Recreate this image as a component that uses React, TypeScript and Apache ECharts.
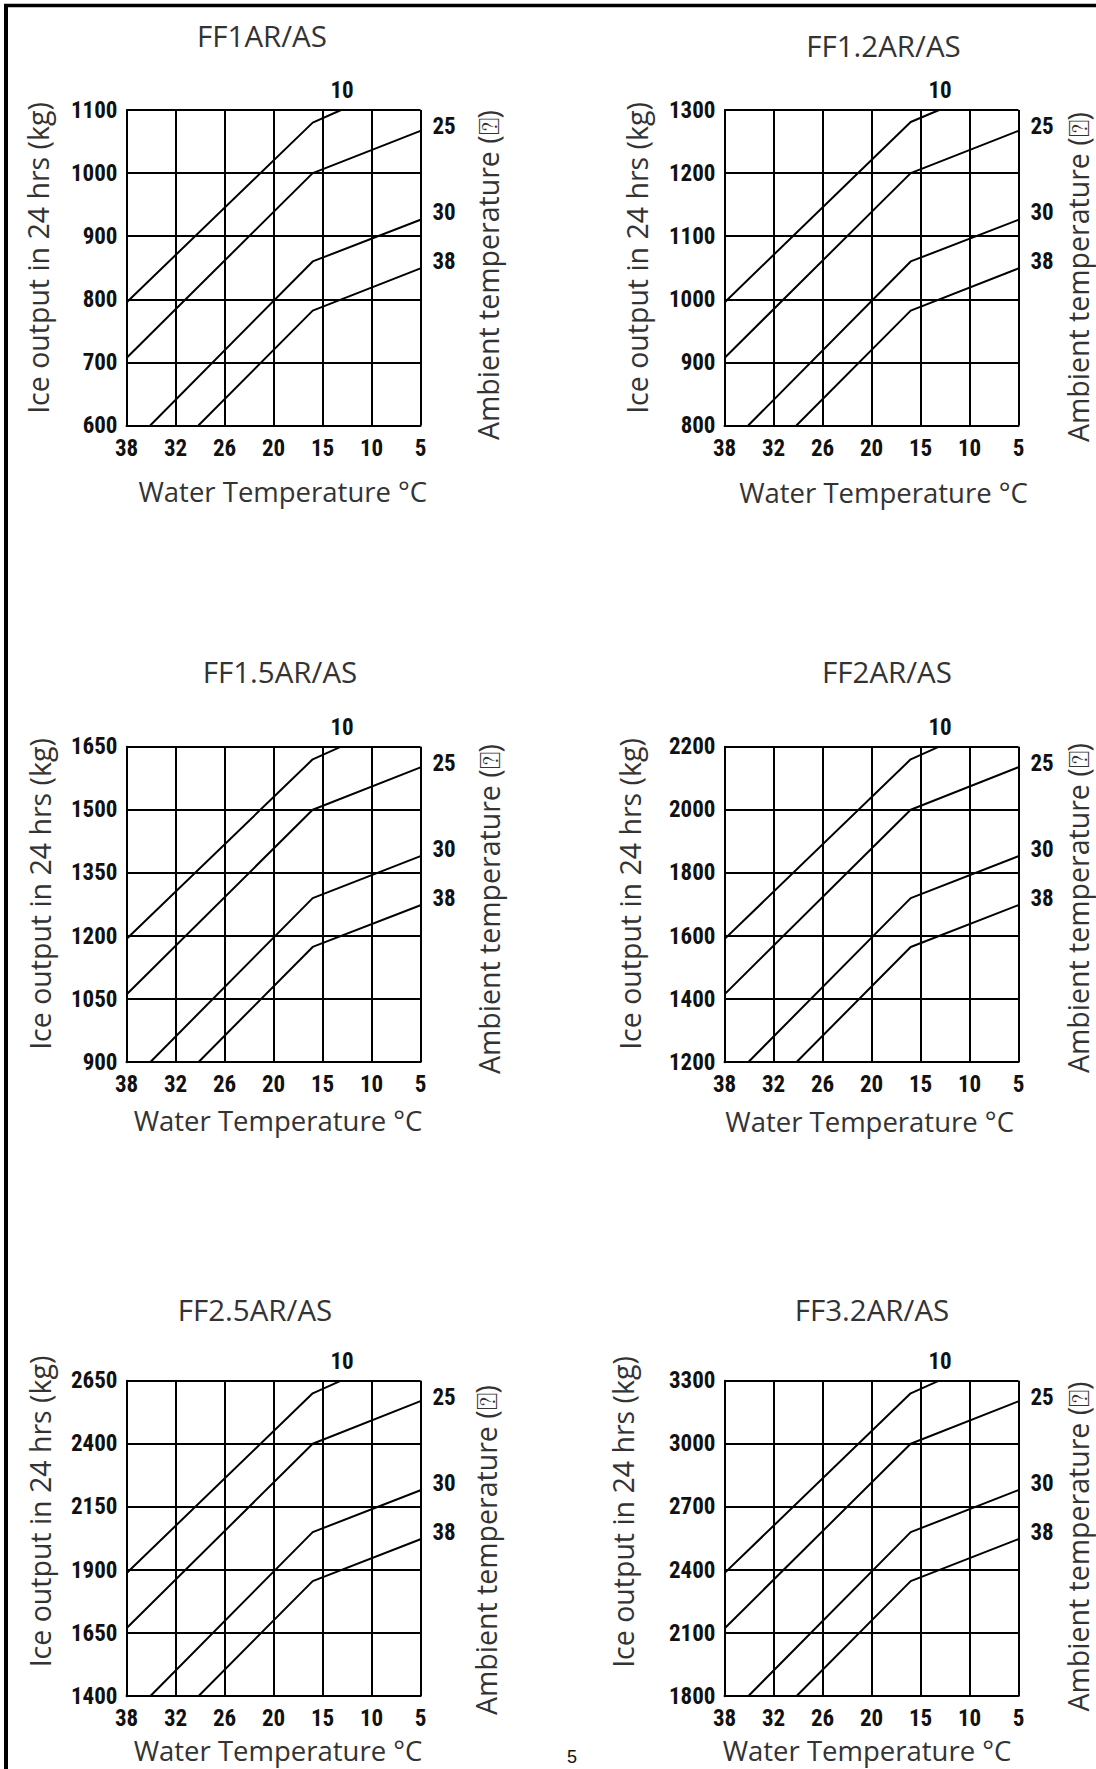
import React, { useEffect, useRef } from "react";
import * as echarts from "echarts";

// ---------- DATA ----------
const waterTempTicks = [38, 32, 26, 20, 15, 10, 5];
const ambientNames = ["10", "25", "30", "38"];

const modelNames = ["FF1AR/AS", "FF1.2AR/AS", "FF1.5AR/AS", "FF2AR/AS", "FF2.5AR/AS", "FF3.2AR/AS"];
const yMins = [600, 800, 900, 1200, 1400, 1800];
const yMaxs = [1100, 1300, 1650, 2200, 2650, 3300];
const yIntervals = [100, 100, 150, 200, 250, 300];

// water temperature (°C) of the points of each ambient curve
const waterTemp10 = [38, 16, 13.1];
const waterTemp25 = [38, 16, 5];
const waterTemp30 = [35.1, 16, 5];
const waterTemp38 = [29.2, 16, 5];

// ice output (kg / 24 h) per model and ambient temperature
const ff1_10 = [795, 1080, 1100];
const ff1_25 = [707, 1000, 1067];
const ff1_30 = [600, 860, 926];
const ff1_38 = [600, 782, 849];

const ff12_10 = [995, 1281, 1300];
const ff12_25 = [907, 1200, 1267];
const ff12_30 = [800, 1060, 1126];
const ff12_38 = [800, 982, 1049];

const ff15_10 = [1193, 1620, 1650];
const ff15_25 = [1061, 1500, 1601];
const ff15_30 = [900, 1290, 1390];
const ff15_38 = [900, 1174, 1273];

const ff2_10 = [1590, 2160, 2200];
const ff2_25 = [1415, 2000, 2135];
const ff2_30 = [1200, 1720, 1853];
const ff2_38 = [1200, 1565, 1698];

const ff25_10 = [1887, 2600, 2650];
const ff25_25 = [1669, 2400, 2569];
const ff25_30 = [1400, 2050, 2216];
const ff25_38 = [1400, 1856, 2022];

const ff32_10 = [2385, 3240, 3300];
const ff32_25 = [2122, 3000, 3202];
const ff32_30 = [1800, 2580, 2780];
const ff32_38 = [1800, 2347, 2547];

const modelCurves = [
  [ff1_10, ff1_25, ff1_30, ff1_38],
  [ff12_10, ff12_25, ff12_30, ff12_38],
  [ff15_10, ff15_25, ff15_30, ff15_38],
  [ff2_10, ff2_25, ff2_30, ff2_38],
  [ff25_10, ff25_25, ff25_30, ff25_38],
  [ff32_10, ff32_25, ff32_30, ff32_38],
];
const curveTemps = [waterTemp10, waterTemp25, waterTemp30, waterTemp38];

// ---------- LAYOUT ----------
const PLOT_W = 294;
const PLOT_H = 315.5;
const gridPos = [
  [126.5, 110],
  [724.5, 110],
  [126.5, 746.7],
  [724.5, 746.7],
  [126.5, 1380.7],
  [724.5, 1380.7],
];
const titlePos = [
  [262, 35],
  [883.5, 45],
  [280, 671.7],
  [887, 671.7],
  [255, 1309],
  [872, 1309],
];
const leftNamePos = [
  [38.4, 258],
  [637, 258],
  [40, 894],
  [630, 894],
  [40, 1511.5],
  [623, 1512],
];
const rightNamePos = [
  [487.6, 275],
  [1077.5, 277],
  [489, 909],
  [1077.5, 908],
  [486, 1550],
  [1077.5, 1546.5],
];
const xNamePos = [
  [282.8, 491.7],
  [883.5, 492],
  [278, 1120],
  [869.6, 1121.7],
  [278, 1750],
  [867, 1750],
];

const NUM_FONT = '"Roboto Condensed", "DejaVu Sans Condensed", "Liberation Sans", sans-serif';
const TXT_FONT = '"Open Sans", "Noto Sans", sans-serif';

// map a water temperature onto the (evenly spaced) tick positions of the axis
function waterPos(t: number): number {
  for (let i = 0; i < waterTempTicks.length - 1; i++) {
    const a = waterTempTicks[i];
    const b = waterTempTicks[i + 1];
    if (t <= a && t >= b) return i + (a - t) / (a - b);
  }
  return t > waterTempTicks[0] ? 0 : waterTempTicks.length - 1;
}

export default function App() {
  const ref = useRef<HTMLDivElement>(null);

  useEffect(() => {
    if (!ref.current) return;
    const chart = echarts.init(ref.current, null, { renderer: "svg" });

    const grids: any[] = [];
    const xAxes: any[] = [];
    const yAxes: any[] = [];
    const series: any[] = [];
    const graphic: any[] = [];

    const numStyle = {
      fontFamily: NUM_FONT,
      fontSize: 23,
      fontWeight: "bold",
      color: "#111",
    };

    modelNames.forEach((name, i) => {
      grids.push({
        left: gridPos[i][0],
        top: gridPos[i][1],
        width: PLOT_W,
        height: PLOT_H,
        containLabel: false,
      });
      xAxes.push({
        type: "value",
        gridIndex: i,
        min: 0,
        max: waterTempTicks.length - 1,
        interval: 1,
        axisLine: { show: true, lineStyle: { color: "#000", width: 2 } },
        axisTick: { show: false },
        splitLine: { show: true, lineStyle: { color: "#000", width: 2 } },
        axisLabel: {
          margin: 11,
          ...numStyle,
          formatter: (v: number) => String(waterTempTicks[Math.round(v)]),
        },
      });
      yAxes.push({
        type: "value",
        gridIndex: i,
        min: yMins[i],
        max: yMaxs[i],
        interval: yIntervals[i],
        axisLine: { show: true, lineStyle: { color: "#000", width: 2 } },
        axisTick: { show: false },
        splitLine: { show: true, lineStyle: { color: "#000", width: 2 } },
        axisLabel: {
          margin: 9,
          ...numStyle,
          formatter: (v: number) => String(v),
        },
      });

      modelCurves[i].forEach((vals, c) => {
        const temps = curveTemps[c];
        const isTop = c === 0;
        series.push({
          type: "line",
          name: ambientNames[c],
          xAxisIndex: i,
          yAxisIndex: i,
          symbol: "none",
          animation: false,
          lineStyle: { color: "#000", width: 2 },
          data: vals.map((v, k) => [waterPos(temps[k]), v]),
          endLabel: {
            show: true,
            formatter: ambientNames[c],
            distance: 0,
            ...numStyle,
            align: isTop ? "center" : "left",
            verticalAlign: isTop ? "bottom" : "middle",
            offset: isTop ? [1, -8] : [12, c === 1 ? -4 : -7],
          },
        });
      });

      graphic.push({
        type: "text",
        x: titlePos[i][0],
        y: titlePos[i][1],
        style: { text: name, font: `29.5px ${TXT_FONT}`, fill: "#333", align: "center", verticalAlign: "middle" },
      });
      graphic.push({
        type: "text",
        x: leftNamePos[i][0],
        y: leftNamePos[i][1],
        rotation: Math.PI / 2,
        style: {
          text: "Ice output in 24 hrs (kg)",
          font: `28.5px ${TXT_FONT}`,
          fill: "#333",
          align: "center",
          verticalAlign: "middle",
        },
      });
      graphic.push({
        type: "text",
        x: rightNamePos[i][0],
        y: rightNamePos[i][1],
        rotation: Math.PI / 2,
        style: {
          text: "Ambient temperature (⍰)",
          font: `28.5px ${TXT_FONT}`,
          fill: "#333",
          align: "center",
          verticalAlign: "middle",
        },
      });
      graphic.push({
        type: "text",
        x: xNamePos[i][0],
        y: xNamePos[i][1],
        style: {
          text: "Water Temperature °C",
          font: `27.5px ${TXT_FONT}`,
          fill: "#333",
          align: "center",
          verticalAlign: "middle",
        },
      });
    });

    // page frame and page number
    graphic.push({
      type: "line",
      shape: { x1: 4, y1: 5.5, x2: 1096, y2: 5.5 },
      style: { stroke: "#000", lineWidth: 3.5 },
    });
    graphic.push({
      type: "line",
      shape: { x1: 6, y1: 4, x2: 6, y2: 1769 },
      style: { stroke: "#000", lineWidth: 4 },
    });
    graphic.push({
      type: "text",
      x: 572,
      y: 1757,
      style: { text: "5", font: `18px "Liberation Sans", sans-serif`, fill: "#111", align: "center", verticalAlign: "middle" },
    });

    chart.setOption({
      animation: false,
      backgroundColor: "#fff",
      grid: grids,
      xAxis: xAxes,
      yAxis: yAxes,
      series,
      graphic,
    });

    return () => chart.dispose();
  }, []);

  return (
    <div
      ref={ref}
      style={{ position: "absolute", left: 0, top: 0, width: 1096, height: 1769, background: "#fff" }}
    />
  );
}
